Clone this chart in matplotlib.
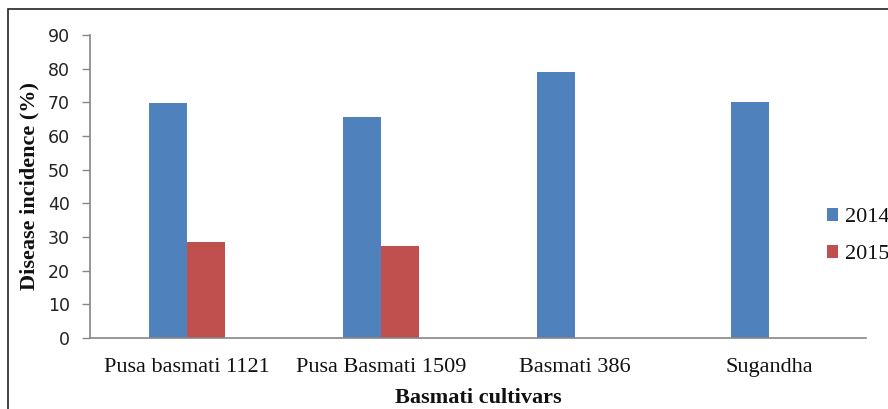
import matplotlib
matplotlib.use("Agg")
import matplotlib.pyplot as plt
import numpy as np
from matplotlib.patches import Rectangle

categories = ["Pusa basmati 1121", "Pusa Basmati 1509", "Basmati 386", "Sugandha"]
series_names = ["2014", "2015"]
values_2014 = [69.7, 65.5, 78.9, 70.0]
values_2015 = [28.4, 27.4, 0, 0]
yticks = [0, 10, 20, 30, 40, 50, 60, 70, 80, 90]

W, H = 888, 409
fig = plt.figure(figsize=(W / 100, H / 100), dpi=100)
ax = fig.add_axes([90 / W, 71 / H, 776 / W, 303 / H])

x = np.arange(len(categories))
bw = 0.196
ax.bar(x - bw / 2, values_2014, width=bw, color="#4F81BD", label=series_names[0])
ax.bar(x + bw / 2, values_2015, width=bw, color="#C0504D", label=series_names[1])

ax.set_xlim(-0.5, len(categories) - 0.5)
ax.set_ylim(0, 90)
ax.set_yticks(yticks)
ax.set_xticks(x)
ax.set_xticklabels(categories, family="Liberation Serif", fontsize=16, color="#111111",
                   va="baseline")
ax.tick_params(axis="x", length=0, pad=24.5)
ax.tick_params(axis="y", length=5.5, width=1, color="#868686", pad=9, labelsize=12.5,
               labelcolor="#222222")
for lab in ax.get_yticklabels():
    lab.set_family("DejaVu Sans")

for s in ["top", "right"]:
    ax.spines[s].set_visible(False)
for s in ["left", "bottom"]:
    ax.spines[s].set_color("#868686")
    ax.spines[s].set_linewidth(1.2)

ax.set_ylabel("Disease incidence (%)", family="Liberation Serif", fontweight="bold",
              fontsize=16, color="#111111")
ax.yaxis.set_label_coords(-51 / 776, 0.5)
fig.text(478 / W, 1 - 403 / H, "Basmati cultivars", family="Liberation Serif",
         fontweight="bold", fontsize=16, ha="center", va="baseline", color="#111111")

leg = fig.legend(loc="center left", bbox_to_anchor=(827 / W, 1 - 236 / H),
                 frameon=False, prop={"family": "Liberation Serif", "size": 16},
                 handlelength=0.5, handleheight=0.5, handletextpad=0.3,
                 labelspacing=0.8, borderaxespad=0, borderpad=0)
for t in leg.get_texts():
    t.set_color("#111111")

fig.patches.append(Rectangle((7.5 / W, -0.1), 1.2, 1 - 9 / H + 0.1, transform=fig.transFigure,
                             fill=False, edgecolor="#222222", linewidth=1.2))

fig.savefig("out.png", dpi=100)
